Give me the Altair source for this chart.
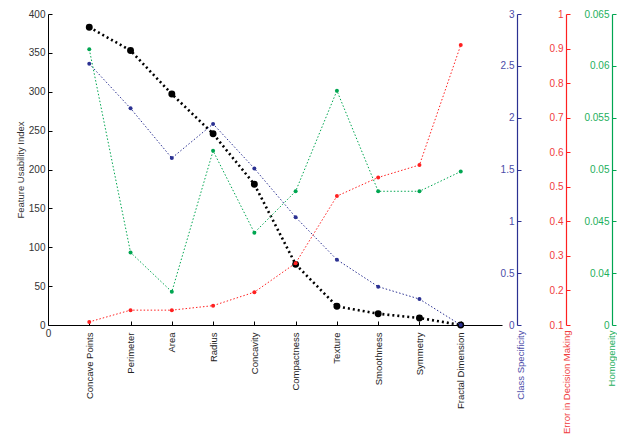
import altair as alt
import pandas as pd

features = ["Concave Points", "Perimeter", "Area", "Radius", "Concavity",
            "Compactness", "Texture", "Smoothness", "Symmetry", "Fractal Dimension"]
positions = list(range(1, 11))
usability = [383, 353, 297, 246, 181, 78, 24, 14.5, 9, 0]
specificity = [2.52, 2.09, 1.61, 1.94, 1.51, 1.04, 0.63, 0.37, 0.25, 0.0]
error = [0.109, 0.143, 0.143, 0.156, 0.195, 0.279, 0.473, 0.527, 0.563, 0.910]
homogeneity = [0.0616, 0.0420, 0.0382, 0.0518, 0.0439, 0.0479, 0.0576, 0.0479, 0.0479, 0.0498]

df = pd.DataFrame({"pos": positions, "feature": features, "fui": usability,
                   "cs": specificity, "err": error, "hom": homogeneity})

W, H = 454, 311
FONT = "Liberation Sans"
BLUE, BLUE_L = "#2B3192", "#4B4BA8"
RED, RED_L = "#FF2020", "#F03C3C"
GREEN, GREEN_L = "#00A651", "#1DAF5C"

names_js = "[''," + ",".join("'" + f + "'" for f in features) + "]"
xscale = alt.Scale(domain=[0, 11], nice=False, zero=False)

base = alt.Chart(df)

# black: Feature Usability Index
black = base.mark_line(color="black", strokeWidth=2.6, strokeDash=[2, 3],
                       point=alt.OverlayMarkDef(filled=True, size=48, color="black")).encode(
    x=alt.X("pos:Q", scale=xscale, axis=alt.Axis(
        orient="top", offset=-H, values=positions, labelExpr=names_js + "[datum.value]",
        labelAngle=270, labelAlign="right", labelBaseline="middle", labelPadding=-11,
        tickSize=4, tickColor="black", domainColor="black", grid=False, title=None,
        labelFontSize=9.5, labelColor="#222222", labelOverlap=False, labelFlush=False,
        labelFont=FONT)),
    y=alt.Y("fui:Q", scale=alt.Scale(domain=[0, 400], nice=False), axis=alt.Axis(
        orient="right", offset=-W, values=list(range(0, 401, 50)), tickSize=4,
        labelAlign="right", labelBaseline="middle", labelPadding=-7, grid=False,
        domainColor="black", tickColor="black", labelColor="#333333", labelFontSize=10,
        labelFont=FONT, title="Feature Usability Index", titleX=-28, titleY=H / 2,
        titleAngle=270, titleAlign="center", titleBaseline="middle", titleFontSize=9.5,
        titleFontWeight="normal", titleColor="#333333", titleFont=FONT)),
)

def right_axis(title, offset, values, expr, col, lcol, tx):
    return alt.Axis(orient="right", offset=offset, values=values, labelExpr=expr,
                    tickSize=4, labelAlign="right", labelBaseline="middle", labelPadding=-7,
                    grid=False, domainColor=col, tickColor=col, labelColor=lcol,
                    labelFontSize=10, labelFont=FONT, title=title, titleX=tx, titleY=H + 5,
                    titleAngle=270, titleAlign="right", titleBaseline="middle",
                    titleFontSize=9.5, titleFontWeight="normal", titleColor=lcol,
                    titleFont=FONT, labelOverlap=False, labelFlush=False, domainWidth=1.2)

blue = base.mark_line(color=BLUE, strokeWidth=1, strokeDash=[1.5, 2],
                      point=alt.OverlayMarkDef(filled=True, size=16, color=BLUE)).encode(
    x=alt.X("pos:Q", scale=xscale, axis=alt.Axis(
        orient="bottom", values=[0], labelExpr="'0'", ticks=False, domain=False,
        labelAngle=0, labelPadding=3, labelFlush=False, grid=False, title=None,
        labelFontSize=10, labelColor="#333333", labelFont=FONT)),
    y=alt.Y("cs:Q", scale=alt.Scale(domain=[0, 3], nice=False),
            axis=right_axis("Class Specificity", 15, [0, 0.5, 1, 1.5, 2, 2.5, 3],
                            "toString(datum.value)", BLUE, BLUE_L, 3)),
)

red = base.mark_line(color=RED, strokeWidth=1, strokeDash=[1.5, 2],
                     point=alt.OverlayMarkDef(filled=True, size=16, color=RED)).encode(
    x=alt.X("pos:Q", scale=xscale, axis=None),
    y=alt.Y("err:Q", scale=alt.Scale(domain=[0.1, 1], nice=False, zero=False),
            axis=right_axis("Error in Decision Making", 64,
                            [0.1, 0.2, 0.3, 0.4, 0.5, 0.6, 0.7, 0.8, 0.9, 1.0],
                            "toString(round(datum.value*10)/10)", RED, RED_L, 0)),
)

green = base.mark_line(color=GREEN, strokeWidth=1, strokeDash=[1.5, 2],
                       point=alt.OverlayMarkDef(filled=True, size=16, color=GREEN)).encode(
    x=alt.X("pos:Q", scale=xscale, axis=None),
    y=alt.Y("hom:Q", scale=alt.Scale(domain=[0.035, 0.065], nice=False, zero=False),
            axis=right_axis("Homogeneity", 110,
                            [0.035, 0.04, 0.045, 0.05, 0.055, 0.06, 0.065],
                            "datum.value < 0.037 ? '0' : toString(round(datum.value*1000)/1000)",
                            GREEN, GREEN_L, -1)),
)

chart = alt.layer(black, blue, red, green).resolve_scale(
    x="independent", y="independent").resolve_axis(x="independent", y="independent").properties(
    width=W, height=H, autosize=alt.AutoSizeParams(type="none"),
    padding={"left": 40, "top": 6, "right": 115, "bottom": 112},
    background="white").configure_view(stroke=None)

chart.save("out.html", embed_options={"renderer": "svg", "actions": False})
